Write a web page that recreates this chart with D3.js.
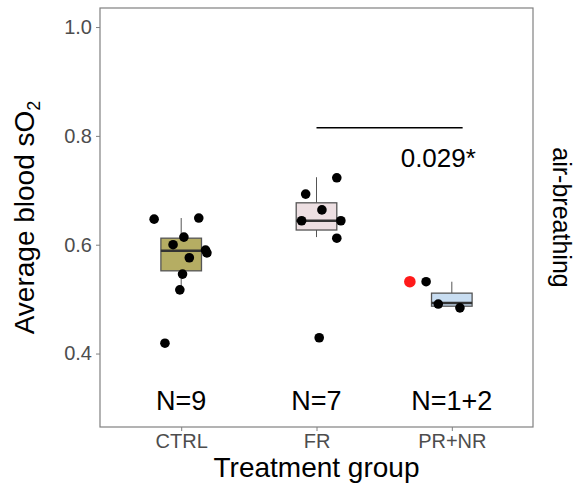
<!DOCTYPE html>
<html>
<head>
<meta charset="utf-8">
<script src="https://cdn.jsdelivr.net/npm/d3@7"></script>
<style>
  body { margin: 0; background: #fff; }
  svg { font-family: "Liberation Sans", Arial, sans-serif; }
</style>
</head>
<body>
<svg></svg>
<script>
let groups = ['CTRL', 'FR', 'PR+NR']
let nLabels = ['N=9', 'N=7', 'N=1+2']
let boxColors = ['#b5ad63', '#eddfe2', '#c8ddf1']

// box stats per group: whisker low, q1, median, q3, whisker high
let boxLow = [0.513, 0.614, 0.487]
let boxQ1 = [0.552, 0.627, 0.487]
let boxMed = [0.589, 0.644, 0.493]
let boxQ3 = [0.612, 0.677, 0.511]
let boxHigh = [0.649, 0.724, 0.532]

// points: group, jitter (in steps), value, red flag
let ptGroup = ['CTRL','CTRL','CTRL','CTRL','CTRL','CTRL','CTRL','CTRL','CTRL','CTRL',
               'FR','FR','FR','FR','FR','FR','FR',
               'PR+NR','PR+NR','PR+NR','PR+NR']
let ptJitter = [-0.20, 0.13, 0.02, -0.06, 0.18, 0.19, 0.06, 0.01, -0.01, -0.12,
                0.15, -0.08, 0.04, -0.11, 0.18, 0.15, 0.02,
                -0.31, -0.19, -0.10, 0.06]
let ptValue = [0.647, 0.649, 0.614, 0.600, 0.590, 0.585, 0.576, 0.546, 0.517, 0.419,
               0.723, 0.693, 0.664, 0.644, 0.644, 0.612, 0.429,
               0.532, 0.532, 0.491, 0.484]
let ptRed = [0,0,0,0,0,0,0,0,0,0, 0,0,0,0,0,0,0, 1,0,0,0]

let yTicks = [0.4, 0.6, 0.8, 1.0]
let sigFrom = 'FR', sigTo = 'PR+NR', sigY = 0.815, sigText = '0.029*'

let width = 578, height = 488
let padLeft = 100, padRight = 533, padTop = 8, padBottom = 427

let svg = d3.select('svg').attr('width', width).attr('height', height)

let xScale = d3.scalePoint().domain(groups).range([padLeft, padRight]).padding(0.6)
let step = xScale.step()
let yScale = d3.scaleLinear().domain([0.265, 1.035]).range([padBottom, padTop])

// panel border
svg.append('rect')
  .attr('x', padLeft).attr('y', padTop)
  .attr('width', padRight - padLeft).attr('height', padBottom - padTop)
  .attr('fill', 'none').attr('stroke', '#808080').attr('stroke-width', 1.2)

// axes
let yAxis = d3.axisLeft(yScale).tickValues(yTicks).tickFormat(d3.format('.1f')).tickSize(4).tickPadding(4)
let gy = svg.append('g').attr('transform', 'translate(' + padLeft + ',0)').call(yAxis)
gy.select('.domain').remove()
gy.selectAll('line').attr('stroke', '#808080')
gy.selectAll('text').attr('fill', '#4d4d4d').style('font-size', '20px')

let xAxis = d3.axisBottom(xScale).tickSize(4).tickPadding(3)
let gx = svg.append('g').attr('transform', 'translate(0,' + padBottom + ')').call(xAxis)
gx.select('.domain').remove()
gx.selectAll('line').attr('stroke', '#808080')
gx.selectAll('text').attr('fill', '#4d4d4d').style('font-size', '20px')

// boxes
let boxW = step * 0.3
groups.forEach((g, i) => {
  let cx = xScale(g)
  svg.append('line')
    .attr('x1', cx).attr('x2', cx)
    .attr('y1', yScale(boxHigh[i])).attr('y2', yScale(boxQ3[i]))
    .attr('stroke', '#555').attr('stroke-width', 1)
  svg.append('line')
    .attr('x1', cx).attr('x2', cx)
    .attr('y1', yScale(boxQ1[i])).attr('y2', yScale(boxLow[i]))
    .attr('stroke', '#555').attr('stroke-width', 1)
  svg.append('rect')
    .attr('x', cx - boxW / 2).attr('width', boxW)
    .attr('y', yScale(boxQ3[i])).attr('height', yScale(boxQ1[i]) - yScale(boxQ3[i]))
    .attr('fill', boxColors[i]).attr('stroke', '#555').attr('stroke-width', 1.3)
  svg.append('line')
    .attr('x1', cx - boxW / 2).attr('x2', cx + boxW / 2)
    .attr('y1', yScale(boxMed[i])).attr('y2', yScale(boxMed[i]))
    .attr('stroke', '#333').attr('stroke-width', 2.5)
})

// points
svg.selectAll('circle.pt')
  .data(ptValue)
  .enter()
  .append('circle')
  .attr('class', 'pt')
  .attr('cx', (d, i) => xScale(ptGroup[i]) + ptJitter[i] * step)
  .attr('cy', d => yScale(d))
  .attr('r', (d, i) => ptRed[i] ? 5.8 : 4.8)
  .attr('fill', (d, i) => ptRed[i] ? '#ff1a1a' : '#000')

// significance bar
svg.append('line')
  .attr('x1', xScale(sigFrom)).attr('x2', xScale(sigTo) + 0.08 * step)
  .attr('y1', yScale(sigY)).attr('y2', yScale(sigY))
  .attr('stroke', '#000').attr('stroke-width', 1.5)
svg.append('text')
  .attr('x', xScale(sigTo) - 0.1 * step).attr('y', yScale(sigY) + 39)
  .attr('text-anchor', 'middle')
  .style('font-size', '26px')
  .text(sigText)

// N labels
svg.selectAll('text.n')
  .data(nLabels)
  .enter()
  .append('text')
  .attr('class', 'n')
  .attr('x', (d, i) => xScale(groups[i]))
  .attr('y', 410)
  .attr('text-anchor', 'middle')
  .style('font-size', '27px')
  .text(d => d)

// axis titles
svg.append('text')
  .attr('x', (padLeft + padRight) / 2).attr('y', 477)
  .attr('text-anchor', 'middle')
  .style('font-size', '28px')
  .text('Treatment group')

let yt = svg.append('text')
  .attr('transform', 'translate(34,' + ((padTop + padBottom) / 2) + ') rotate(-90)')
  .attr('text-anchor', 'middle')
  .style('font-size', '28px')
yt.append('tspan').text('Average blood sO')
yt.append('tspan').attr('dy', 6).style('font-size', '18px').text('2')

// facet strip
svg.append('text')
  .attr('transform', 'translate(553,' + ((padTop + padBottom) / 2) + ') rotate(90)')
  .attr('text-anchor', 'middle')
  .style('font-size', '25px')
  .text('air-breathing')
</script>
</body>
</html>
